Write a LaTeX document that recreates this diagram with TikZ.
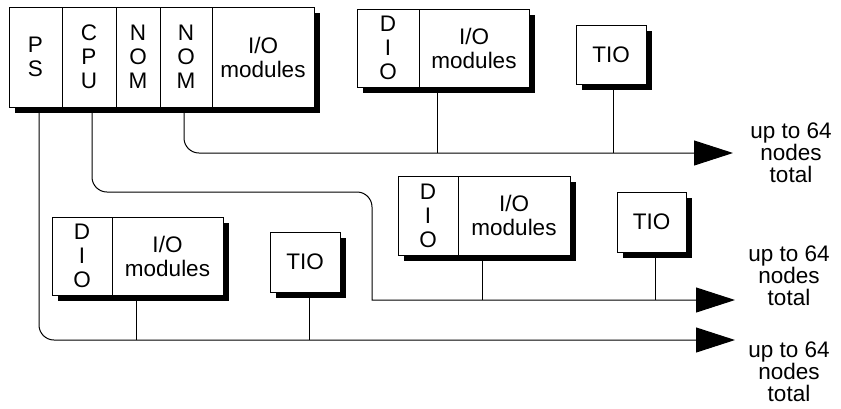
\documentclass[tikz,border=0pt]{standalone}
\usepackage{fontspec}
\setmainfont{Liberation Sans}
\usetikzlibrary{arrows.meta,shadows,calc}
\begin{document}
\begin{tikzpicture}[x=1pt,y=-1pt,
  every node/.style={font=\fontsize{22.5}{24}\selectfont, align=center, inner sep=0pt},
  frame/.style={draw, line width=0.9pt, fill=white,
     drop shadow={shadow xshift=6pt, shadow yshift=-6pt, fill=black, opacity=1}},
  cell/.style={draw, line width=0.9pt, fill=white},
  bus/.style={line width=1pt},
  busarrow/.style={bus, -{Triangle[length=39pt,width=25pt]}},
  tapline/.style={line width=1pt},
  lab/.style={font=\fontsize{22.5}{22}\selectfont}]
\useasboundingbox (0,0) rectangle (841,408);

% main rack
\node[frame, minimum width=305pt, minimum height=100pt] (rack) at (161.5,57) {};
\node[cell, minimum width=53pt, minimum height=100pt] (ps) at (35.5,57) {P\\S};
\node[cell, minimum width=54pt, minimum height=100pt] (cpu) at (89,57) {C\\P\\U};
\node[cell, minimum width=44pt, minimum height=100pt] (nom1) at (138,57) {N\\O\\M};
\node[cell, minimum width=52pt, minimum height=100pt] (nom2) at (186,57) {N\\O\\M};
\node[cell, minimum width=102pt, minimum height=100pt] (rio) at (263,57) {I/O\\modules};

% top node group
\node[frame, minimum width=172pt, minimum height=78pt] (dio1) at (443,48) {};
\node[cell, minimum width=62pt, minimum height=78pt] (d1) at (388,48) {D\\I\\O};
\node[cell, minimum width=110pt, minimum height=78pt] (m1) at (474,48) {I/O\\modules};
\node[frame, minimum width=70pt, minimum height=59pt] (tio1) at (611,54.5) {TIO};

% middle node group
\node[frame, minimum width=172pt, minimum height=79pt] (dio2) at (484,215.5) {};
\node[cell, minimum width=60pt, minimum height=79pt] (d2) at (428,215.5) {D\\I\\O};
\node[cell, minimum width=112pt, minimum height=79pt] (m2) at (514,215.5) {I/O\\modules};
\node[frame, minimum width=69pt, minimum height=60pt] (tio2) at (651.5,222) {TIO};

% bottom node group
\node[frame, minimum width=171pt, minimum height=78pt] (dio3) at (137.5,256) {};
\node[cell, minimum width=60pt, minimum height=78pt] (d3) at (82,256) {D\\I\\O};
\node[cell, minimum width=111pt, minimum height=78pt] (m3) at (167.5,256) {I/O\\modules};
\node[frame, minimum width=70pt, minimum height=60pt] (tio3) at (305,262) {TIO};

% labels
\node[lab] (lab1) at (791,153) {up to 64\\nodes\\total};
\node[lab] (lab2) at (789,276) {up to 64\\nodes\\total};
\node[lab] (lab3) at (789,372) {up to 64\\nodes\\total};

% bus ends and taps
\coordinate (e1) at (733,153);
\coordinate (e2) at (735,300);
\coordinate (e3) at (735,340);
\coordinate (t1) at (437,153);
\coordinate (t2) at (613,153);
\coordinate (t3) at (482,300);
\coordinate (t4) at (655,300);
\coordinate (t5) at (136,340);
\coordinate (t6) at (309,340);

% buses
\draw[busarrow, rounded corners=15pt] ($(nom2.south)+(-2,0)$) |- (e1);
\draw[busarrow, rounded corners=15pt] ($(cpu.south)+(3,0)$) |- (372,192) [sharp corners] |- (e2);
\draw[busarrow, rounded corners=15pt] ($(ps.south)+(3.5,0)$) |- (e3);

% taps
\draw[tapline] (t1 |- dio1.south) -- (t1);
\draw[tapline] (t2 |- tio1.south) -- (t2);
\draw[tapline] (t3 |- dio2.south) -- (t3);
\draw[tapline] (t4 |- tio2.south) -- (t4);
\draw[tapline] (t5 |- dio3.south) -- (t5);
\draw[tapline] (t6 |- tio3.south) -- (t6);
\end{tikzpicture}
\end{document}
